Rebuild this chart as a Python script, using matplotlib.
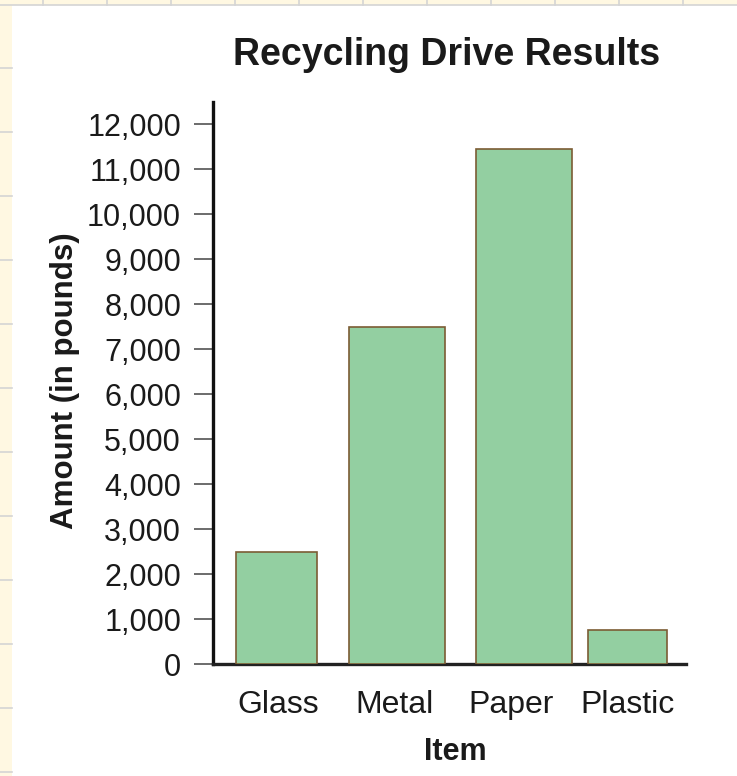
import numpy as np
import matplotlib
matplotlib.use("Agg")
import matplotlib.pyplot as plt
from matplotlib.patches import Rectangle
from matplotlib.lines import Line2D

# Data
items = ["Glass", "Metal", "Paper", "Plastic"]
amounts = [2500, 7500, 11450, 750]
y_ticks = list(range(0, 12001, 1000))
y_tick_labels = [f"{v:,}" for v in y_ticks]

# Layout (bar centres / widths and label positions in axis units)
bar_x = [0.0, 1.0, 2.06, 2.92]
bar_w = [0.67, 0.80, 0.80, 0.66]
label_x = [0.01, 0.985, 1.95, 2.92]

W, H = 737, 776
fig = plt.figure(figsize=(W / 100, H / 100), dpi=100)
fig.patch.set_facecolor("white")

plt.rcParams["font.family"] = ["Liberation Sans", "DejaVu Sans"]

# Spreadsheet-style border strips (top and left)
strip = "#fff8e2"
grid_c = "#d4d4d4"
fig.add_artist(Rectangle((0, 0), 12 / W, 1, transform=fig.transFigure,
                         facecolor=strip, edgecolor="none", zorder=0))
fig.add_artist(Rectangle((0, 1 - 5 / H), 1, 5 / H, transform=fig.transFigure,
                         facecolor=strip, edgecolor="none", zorder=0))
fig.add_artist(Line2D([0, 1], [1 - 5 / H, 1 - 5 / H], transform=fig.transFigure,
                      color=grid_c, lw=1.2, zorder=1))
for gx in np.arange(43, W, 64):
    fig.add_artist(Line2D([gx / W, gx / W], [1 - 5 / H, 1], transform=fig.transFigure,
                          color=grid_c, lw=1.2, zorder=1))
for gy in np.arange(68, H, 64):
    fig.add_artist(Line2D([0, 12 / W], [1 - gy / H, 1 - gy / H], transform=fig.transFigure,
                          color=grid_c, lw=1.2, zorder=1))

# Axes placement
left, right, top, bottom = 213, 686, 102, 664
ax = fig.add_axes([left / W, 1 - bottom / H, (right - left) / W, (bottom - top) / H])
ax.set_facecolor("none")

ax.bar(bar_x, amounts, width=bar_w, color="#93cfa1", edgecolor="#7b5c34",
       linewidth=1.2, zorder=3)

ax.set_xlim(-0.53, 3.41)
ax.set_ylim(0, 12490)

ax.set_yticks(y_ticks)
ax.set_yticklabels(y_tick_labels, fontsize=22, color="#1a1a1a")
ax.set_xticks(label_x)
ax.set_xticklabels(items, fontsize=23, color="#1a1a1a")

ax.tick_params(axis="y", direction="out", length=14, width=1.1, color="#444444", pad=9)
ax.tick_params(axis="x", length=0, pad=19)

for s in ("top", "right"):
    ax.spines[s].set_visible(False)
ax.spines["left"].set_linewidth(2.4)
ax.spines["left"].set_color("#111111")
ax.spines["bottom"].set_linewidth(2.4)
ax.spines["bottom"].set_color("#222222")

fig.text(447 / W, 1 - 55 / H, "Recycling Drive Results", fontsize=27, fontweight="bold",
         ha="center", va="center", color="#1a1a1a")
fig.text(65 / W, 1 - 381 / H, "Amount (in pounds)", fontsize=22.5, fontweight="bold",
         rotation=90, ha="center", va="center", color="#1a1a1a")
fig.text(455 / W, 1 - 752 / H, "Item", fontsize=22, fontweight="bold",
         ha="center", va="center", color="#1a1a1a")

fig.savefig("out.png", dpi=100)
